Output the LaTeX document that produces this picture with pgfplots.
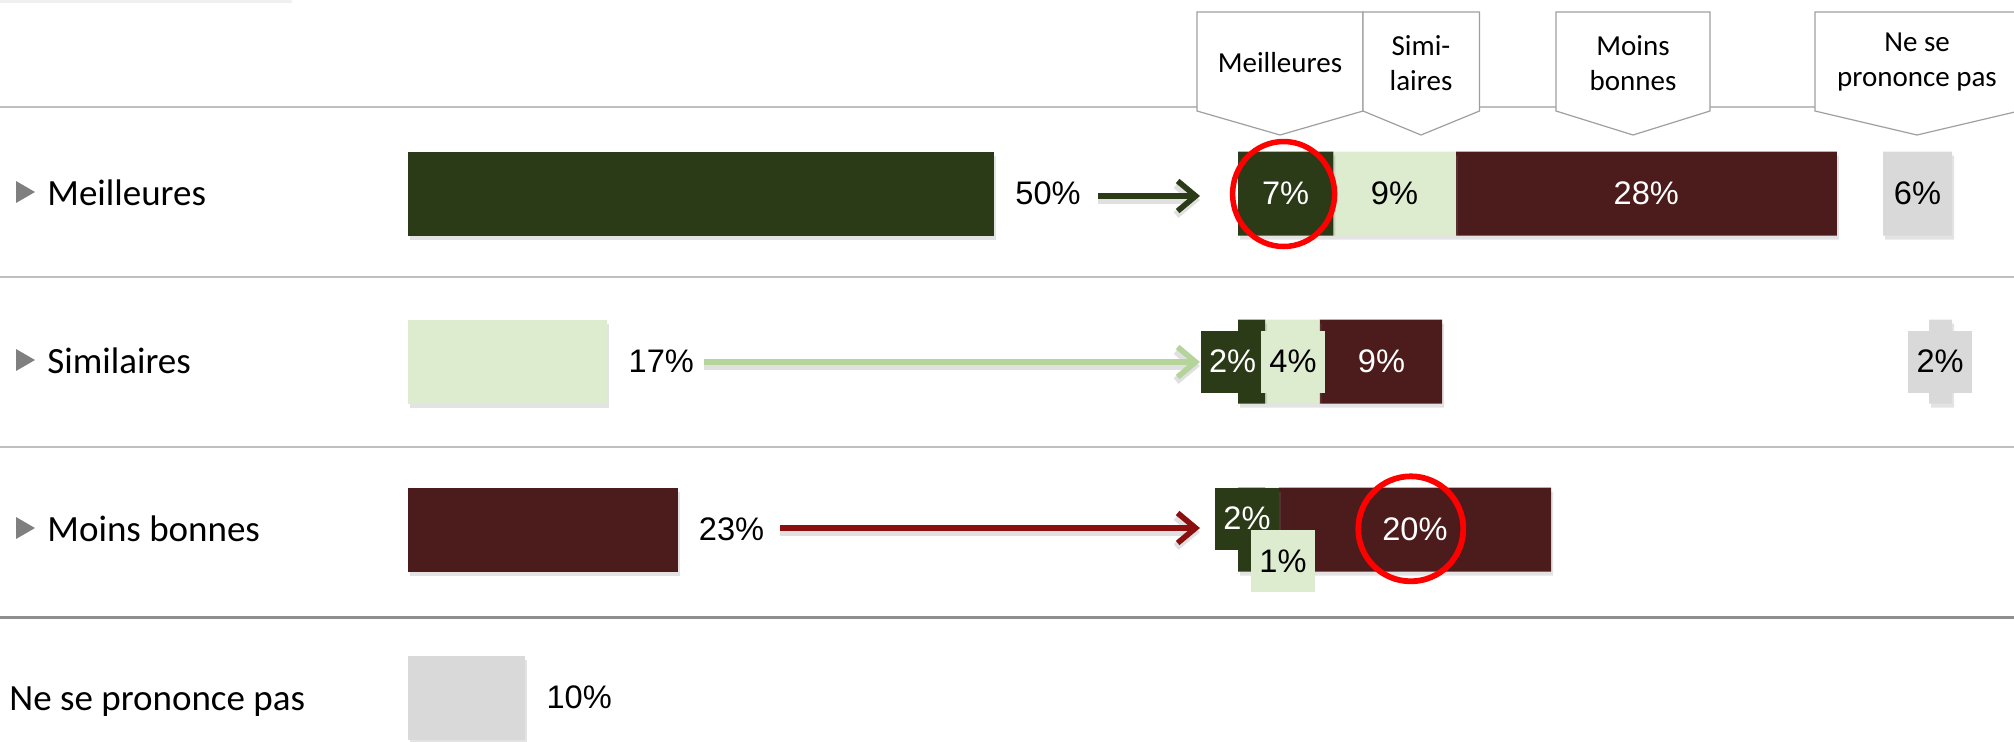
\documentclass[border=0pt]{standalone}
\usepackage{pgfplots}
\pgfplotsset{compat=1.18}
\usepackage{fontspec}
\setmainfont{Liberation Sans}
\newfontfamily\calibri{Carlito}
\usetikzlibrary{arrows.meta,shadows}
\definecolor{dg}{HTML}{2B3A17}
\definecolor{lg}{HTML}{DDEBCF}
\definecolor{dr}{HTML}{4C1B1B}
\definecolor{gr}{HTML}{D9D9D9}
\definecolor{lgarrow}{HTML}{B5D49A}
\definecolor{drarrow}{HTML}{8B0F0F}
\definecolor{sep}{HTML}{BFBFBF}
\definecolor{sepdark}{HTML}{8F8F8F}
\definecolor{tri}{HTML}{7F7F7F}
\newcommand{\pct}{\fontsize{16.3}{19}\selectfont}
\pgfplotsset{
  rowaxis/.style={hide axis, scale only axis, clip=false, height=370.5pt,
    ymin=-0.1518, ymax=4.259, y dir=reverse, anchor=north west},
  mybar/.style={xbar, bar shift=0pt, bar width=0.5, draw=none, fill=#1,
    drop shadow={shadow xshift=1pt, shadow yshift=-2pt, opacity=0.22}},
  labtext/.style={draw=none, mark=none, nodes near coords, point meta=explicit symbolic,
    every node near coord/.append style={anchor=center, font=\pct, text=#1}},
  labbox/.style 2 args={draw=none, mark=none, nodes near coords, point meta=explicit symbolic,
    every node near coord/.append style={anchor=center, font=\pct, text=#2, fill=#1,
      minimum width=32pt, minimum height=31pt, inner sep=0pt}},
}
\tikzset{myarrow/.style={line width=2.8pt, -{Straight Barb[length=9pt, width=15pt]},
  preaction={draw=black, opacity=0.12, line width=3.8pt, transform canvas={yshift=-2pt}}}}
\begin{document}
\begin{tikzpicture}[x=0.5pt,y=-0.5pt]
% faint top-left shadow
\fill[gray!12] (0,0) rectangle (292,3);
% separators
\draw[sep, line width=1pt] (0,107) -- (2014,107);
\draw[sep, line width=1.2pt] (0,277) -- (2014,277);
\draw[sep, line width=1.2pt] (0,447) -- (2014,447);
\draw[sepdark, line width=1.5pt] (0,617) -- (2014,617);
% header callouts
\foreach \a/\b/\c in {1197/1363/1280, 1363/1479.5/1421, 1556/1710/1633, 1815/2019/1917}
  \draw[fill=white, draw=gray!75, line width=0.6pt] (\a,12) -- (\b,12) -- (\b,111) -- (\c,135) -- (\a,111) -- cycle;
\begin{scope}[every node/.style={font=\calibri\fontsize{14.5}{17.5}\selectfont, align=center}]
\node at (1280,63) {Meilleures};
\node at (1421,63) {Simi-\\laires};
\node at (1633,63) {Moins\\bonnes};
\node at (1917,62) {Ne se\\prononce pas};
\end{scope}
% row labels
\begin{scope}[every node/.style={anchor=base west, inner sep=0pt, font=\calibri\fontsize{18.5}{22}\selectfont}]
\foreach \b/\t in {205/Meilleures, 373/Similaires, 541/Moins bonnes}{
  \fill[tri] (16,\b-24) -- (35,\b-13) -- (16,\b-2) -- cycle;
  \node at (47,\b) {\t};
}
\node at (9,710) {Ne se prononce pas};
\end{scope}
% arrows
\draw[dg, myarrow] (1098,196) -- (1200,196);
\draw[lgarrow, myarrow] (704,362) -- (1200,362);
\draw[drarrow, myarrow] (780,528) -- (1200,528);
% left panel
\begin{axis}[rowaxis, at={(204pt,0pt)}, width=293pt, xmin=0, xmax=50,
  nodes near coords, point meta=explicit symbolic,
  every node near coord/.append style={anchor=west, inner sep=0pt, xshift=10.5pt, font=\pct, text=black}]
\addplot[mybar=dg] coordinates {(50,1) [50\%]};
\addplot[mybar=lg] coordinates {(17,2) [17\%]};
\addplot[mybar=dr] coordinates {(23,3) [23\%]};
\addplot[mybar=gr] coordinates {(10,4) [10\%]};
\end{axis}
% right panel stacked bars
\begin{axis}[rowaxis, at={(619pt,0pt)}, width=299.4pt, xmin=0, xmax=44,
  xbar stacked, bar width=0.5]
\addplot[fill=dg, draw=none, drop shadow={shadow xshift=1pt, shadow yshift=-2pt, opacity=0.22}] coordinates {(7,1) (2,2) (2,3)};
\addplot[fill=lg, draw=none, drop shadow={shadow xshift=1pt, shadow yshift=-2pt, opacity=0.22}] coordinates {(9,1) (4,2) (1,3)};
\addplot[fill=dr, draw=none, drop shadow={shadow xshift=1pt, shadow yshift=-2pt, opacity=0.22}] coordinates {(28,1) (9,2) (20,3)};
\end{axis}
% right panel labels
\begin{axis}[rowaxis, at={(619pt,0pt)}, width=299.4pt, xmin=0, xmax=44]
\addplot[labtext=white] coordinates {(3.5,1) [7\%] (30,1) [28\%] (10.54,2) [9\%] (13.0,3) [20\%]};
\addplot[labtext=black] coordinates {(11.5,1) [9\%]};
\addplot[labbox={dg}{white}] coordinates {(-0.40,2) [2\%] (0.66,2.9345) [2\%]};
\addplot[labbox={lg}{black}] coordinates {(4.04,2) [4\%] (3.31,3.1875) [1\%]};
\end{axis}
% "ne se prononce pas" column
\begin{axis}[rowaxis, anchor=north east, at={(976pt,0pt)}, width=57.5pt, xmin=0, xmax=10, x dir=reverse]
\addplot[mybar=gr] coordinates {(6,1) (2,2)};
\addplot[labtext=black] coordinates {(3.0,1) [6\%]};
\addplot[labbox={gr}{black}] coordinates {(1.04,2) [2\%]};
\end{axis}
% red circles
\draw[red, line width=2.75pt] (1283.6,194) ellipse [x radius=25.5pt, y radius=26.25pt];
\draw[red, line width=2.9pt] (1410.8,528.8) circle [radius=26.25pt];
\pgfresetboundingbox
\path[use as bounding box] (0,0) rectangle (2014,741);
\end{tikzpicture}
\end{document}
